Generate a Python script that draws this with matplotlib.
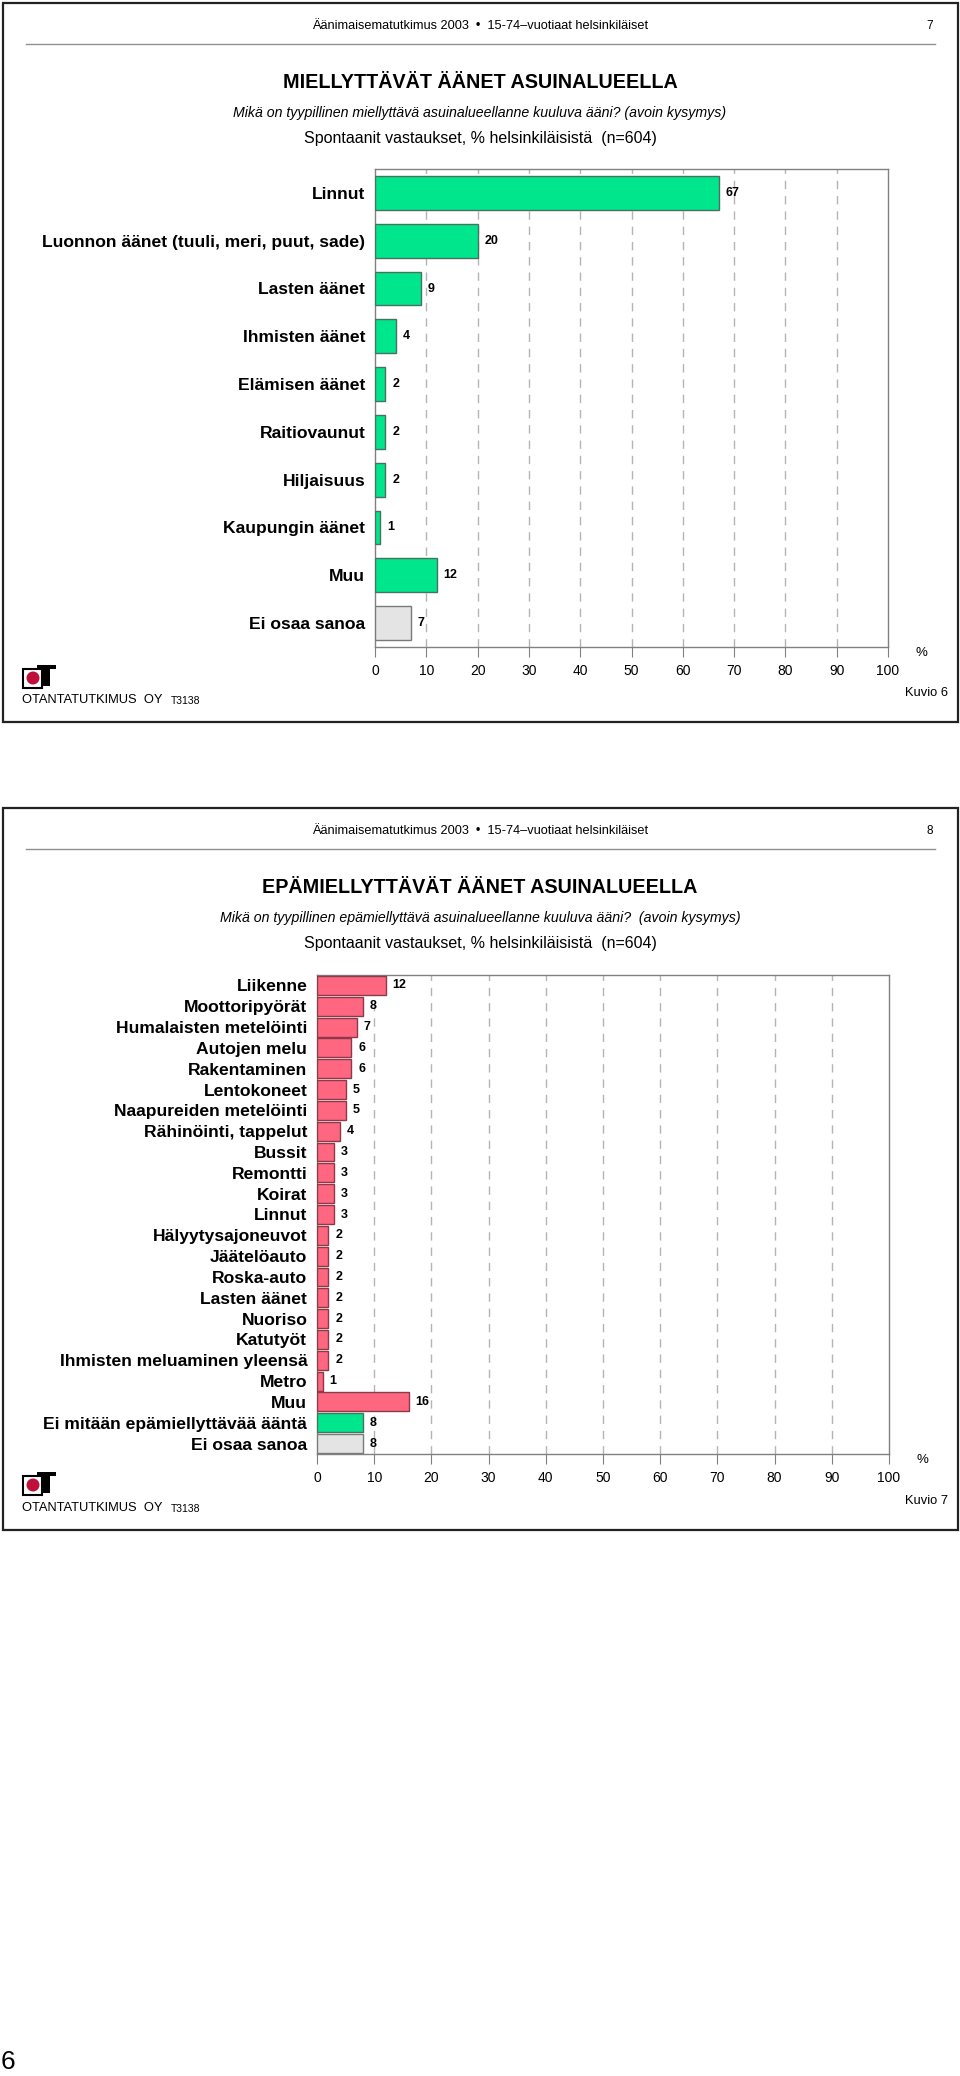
import numpy as np
import matplotlib.pyplot as plt
from matplotlib.patches import Rectangle, Ellipse
from matplotlib.lines import Line2D

plt.rcParams['font.family'] = ['Liberation Sans', 'DejaVu Sans']

W, H = 960, 2076

# chart 1: pleasant sounds
cats1 = ['Linnut', 'Luonnon äänet (tuuli, meri, puut, sade)', 'Lasten äänet',
         'Ihmisten äänet', 'Elämisen äänet', 'Raitiovaunut', 'Hiljaisuus',
         'Kaupungin äänet', 'Muu', 'Ei osaa sanoa']
vals1 = [67, 20, 9, 4, 2, 2, 2, 1, 12, 7]
kind1 = ['g'] * 9 + ['x']

# chart 2: unpleasant sounds
cats2 = ['Liikenne', 'Moottoripyörät', 'Humalaisten metelöinti', 'Autojen melu',
         'Rakentaminen', 'Lentokoneet', 'Naapureiden metelöinti',
         'Rähinöinti, tappelut', 'Bussit', 'Remontti', 'Koirat', 'Linnut',
         'Hälyytysajoneuvot', 'Jäätelöauto', 'Roska-auto', 'Lasten äänet',
         'Nuoriso', 'Katutyöt', 'Ihmisten meluaminen yleensä', 'Metro', 'Muu',
         'Ei mitään epämiellyttävää ääntä', 'Ei osaa sanoa']
vals2 = [12, 8, 7, 6, 6, 5, 5, 4, 3, 3, 3, 3, 2, 2, 2, 2, 2, 2, 2, 1, 16, 8, 8]
kind2 = ['p'] * 21 + ['g', 'x']

ticks = list(range(0, 101, 10))

fills = {'g': '#00e68c', 'p': '#ff6680', 'x': '#e4e4e4'}
edges = {'g': '#4a7060', 'p': '#8a3a48', 'x': '#7a7a7a'}

fig = plt.figure(figsize=(W / 100, H / 100), dpi=100)


def fx(x):
    return x / W


def fy(y):
    return 1 - y / H


def txt(x, y, s, **kw):
    fig.text(fx(x), fy(y), s, va='center', **kw)


def logo(x, y):
    # company logo: framed square with a red dot and a black T
    t = fig.transFigure
    fig.add_artist(Rectangle((fx(x), fy(y + 23)), 19 / W, 19 / H, transform=t,
                             facecolor='white', edgecolor='black', lw=1.5))
    fig.add_artist(Ellipse((fx(x + 10), fy(y + 13)), 13 / W, 13 / H, transform=t,
                           facecolor='#c0103a', edgecolor='none'))
    fig.add_artist(Rectangle((fx(x + 14), fy(y + 4)), 19 / W, 4 / H, transform=t,
                             facecolor='black', edgecolor='none'))
    fig.add_artist(Rectangle((fx(x + 19), fy(y + 21)), 8 / W, 21 / H, transform=t,
                             facecolor='black', edgecolor='none'))


def panel(top, bottom, page, title, question, kuvio, plot_box, cats, vals, kinds, hgt):
    t = fig.transFigure
    fig.add_artist(Rectangle((fx(3), fy(bottom)), 955 / W, (bottom - top) / H,
                             transform=t, fill=False, edgecolor='#222222', lw=1.6))
    txt(480, top + 23, 'Äänimaisematutkimus 2003  •  15-74–vuotiaat helsinkiläiset',
        ha='center', fontsize=9.2)
    txt(930, top + 23, page, ha='center', fontsize=8.5)
    fig.add_artist(Line2D([fx(26), fx(935)], [fy(top + 41)] * 2, transform=t,
                          color='#909090', lw=1))
    txt(480, top + 79, title, ha='center', fontsize=14.2, fontweight='bold')
    txt(480, top + 110, question, ha='center', fontsize=10.2, style='italic')
    txt(480, top + 136, 'Spontaanit vastaukset, % helsinkiläisistä  (n=604)',
        ha='center', fontsize=11.5)

    x0, y0, x1, y1 = plot_box
    ax = fig.add_axes([fx(x0), fy(y1), (x1 - x0) / W, (y1 - y0) / H])
    y = np.arange(len(cats))
    ax.barh(y, vals, height=hgt, color=[fills[k] for k in kinds],
            edgecolor=[edges[k] for k in kinds], linewidth=1, zorder=3)
    for yi, v in zip(y, vals):
        ax.annotate(str(v), (v, yi), xytext=(5, 0), textcoords='offset points',
                    va='center', ha='left', fontsize=9, fontweight='bold', zorder=4)
    ax.set_xlim(0, 100)
    ax.set_ylim(len(cats) - 0.5, -0.5)
    ax.set_yticks(y)
    ax.set_yticklabels(cats, fontsize=12.6, fontweight='bold')
    ax.tick_params(axis='y', length=0, pad=7)
    ax.set_xticks(ticks)
    ax.tick_params(axis='x', length=7, color='#808080', labelsize=10, pad=5)
    for xv in ticks[1:-1]:
        ax.axvline(xv, color='#b4b4b4', lw=1, linestyle=(0, (6, 5)), zorder=1)
    for sp in ax.spines.values():
        sp.set_color('#808080')
        sp.set_linewidth(1)

    txt(x1 + 33, y1 + 6, '%', ha='center', fontsize=9.5)
    logo(23, y1 + 18)
    txt(22, bottom - 22, 'OTANTATUTKIMUS  OY', ha='left', fontsize=9.3)
    txt(171, bottom - 21, 'T3138', ha='left', fontsize=7.5)
    txt(948, bottom - 29, kuvio, ha='right', fontsize=9.3)


panel(3, 722, '7', 'MIELLYTTÄVÄT ÄÄNET ASUINALUEELLA',
      'Mikä on tyypillinen miellyttävä asuinalueellanne kuuluva ääni? (avoin kysymys)',
      'Kuvio 6', (375, 169, 888, 647), cats1, vals1, kind1, 0.71)

panel(808, 1530, '8', 'EPÄMIELLYTTÄVÄT ÄÄNET ASUINALUEELLA',
      'Mikä on tyypillinen epämiellyttävä asuinalueellanne kuuluva ääni?  (avoin kysymys)',
      'Kuvio 7', (317, 975, 889, 1454), cats2, vals2, kind2, 0.91)

txt(1, 2062, '6', ha='left', fontsize=19)

fig.savefig('out.png', dpi=100)
